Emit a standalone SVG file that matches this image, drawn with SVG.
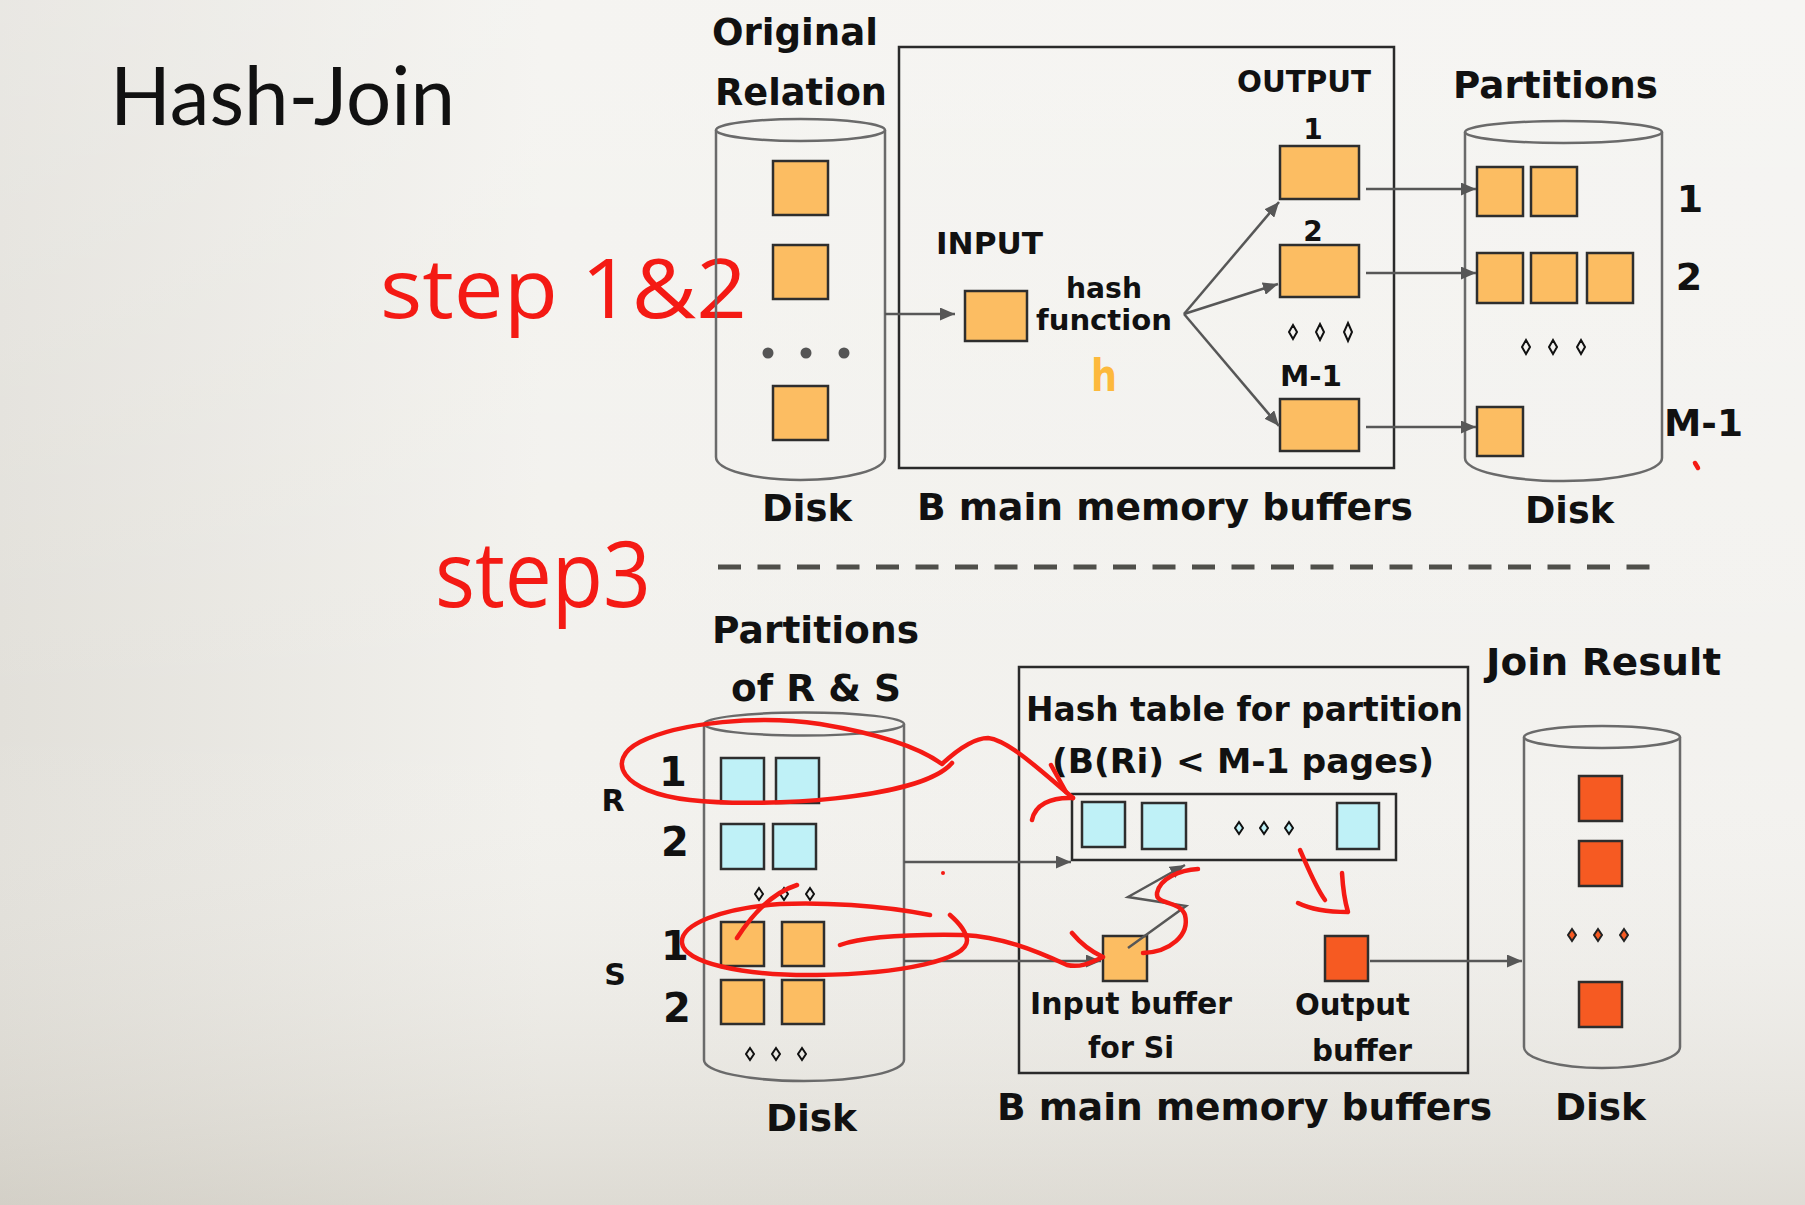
<svg xmlns="http://www.w3.org/2000/svg" width="1805" height="1205" viewBox="0 0 1805 1205">
<defs>
<linearGradient id="bgx" x1="0" y1="0" x2="1" y2="0">
<stop offset="0" stop-color="#e2e0da"/>
<stop offset="0.3" stop-color="#f2f1ed"/>
<stop offset="1" stop-color="#f3f2ef"/>
</linearGradient>
<linearGradient id="bgy" x1="0" y1="0" x2="0" y2="1">
<stop offset="0" stop-color="#ffffff" stop-opacity="0.25"/>
<stop offset="0.6" stop-color="#ffffff" stop-opacity="0"/>
<stop offset="1" stop-color="#b8b2a4" stop-opacity="0.35"/>
</linearGradient>
<marker id="ah" viewBox="0 0 15 13" refX="15" refY="6.5" markerWidth="15" markerHeight="13" markerUnits="userSpaceOnUse" orient="auto">
<path d="M0,0 L15,6.5 L0,13 z" fill="#575757"/>
</marker>
<style>
.lbl{font-family:"DejaVu Sans","Liberation Sans",sans-serif;font-weight:bold;fill:#111}
.cyl{fill:none;stroke:#6a6a6a;stroke-width:2.5}
.frame{fill:none;stroke:#2a2a2a;stroke-width:2.5}
.or{fill:#fcbd62;stroke:#2e2e2e;stroke-width:2.5}
.bl{fill:#bff1f7;stroke:#2e2e2e;stroke-width:2.5}
.rd{fill:#f65a22;stroke:#2e2e2e;stroke-width:2.5}
.arr{fill:none;stroke:#575757;stroke-width:2.5;marker-end:url(#ah)}
.dia{fill:none;stroke:#111;stroke-width:2}
.ink{fill:none;stroke:#f41a14;stroke-width:4.5;stroke-linecap:round;stroke-linejoin:round}
.hand{font-family:"Open Sans","DejaVu Sans",sans-serif;font-weight:400;fill:#f41a14}
</style>
</defs>
<rect width="1805" height="1205" fill="url(#bgx)"/>
<rect width="1805" height="1205" fill="url(#bgy)"/>

<text x="110" y="125" font-family="Lato, 'Open Sans', sans-serif" font-size="82" fill="#111" textLength="345" lengthAdjust="spacingAndGlyphs">Hash-Join</text>

<!-- handwriting -->
<text class="hand" x="380" y="318" font-size="82" textLength="367" lengthAdjust="spacingAndGlyphs">step 1&amp;2</text>
<text class="hand" x="435" y="607" font-size="92" textLength="216" lengthAdjust="spacingAndGlyphs">step3</text>

<!-- top: original relation disk -->
<g id="orig-disk">
<path class="cyl" d="M716,130 L716,457 A84.5,23 0 0 0 885,457 L885,130"/>
<ellipse class="cyl" cx="800.5" cy="130" rx="84.5" ry="11"/>
<rect class="or" x="773" y="161" width="55" height="54"/>
<rect class="or" x="773" y="245" width="55" height="54"/>
<circle cx="768" cy="353" r="5.5" fill="#555"/>
<circle cx="806" cy="353" r="5.5" fill="#555"/>
<circle cx="844" cy="353" r="5.5" fill="#555"/>
<rect class="or" x="773" y="386" width="55" height="54"/>
<text class="lbl" x="712" y="45" font-size="38" textLength="166" lengthAdjust="spacingAndGlyphs">Original</text>
<text class="lbl" x="715" y="105" font-size="38" textLength="172" lengthAdjust="spacingAndGlyphs">Relation</text>
<text class="lbl" x="762" y="521" font-size="38" textLength="90" lengthAdjust="spacingAndGlyphs">Disk</text>
</g>

<g id="memory-top">
<rect class="frame" x="899" y="47" width="495" height="421"/>
<text class="lbl" x="936" y="254" font-size="30" textLength="107" lengthAdjust="spacingAndGlyphs">INPUT</text>
<rect class="or" x="965" y="291" width="62" height="50"/>
<text class="lbl" x="1066" y="298" font-size="28" textLength="76" lengthAdjust="spacingAndGlyphs">hash</text>
<text class="lbl" x="1036" y="330" font-size="28" textLength="136" lengthAdjust="spacingAndGlyphs">function</text>
<text x="1091" y="391" font-family="'DejaVu Sans',sans-serif" font-weight="bold" font-size="44" fill="#fdb93c" textLength="26" lengthAdjust="spacingAndGlyphs">h</text>
<text class="lbl" x="1237" y="92" font-size="30" textLength="134" lengthAdjust="spacingAndGlyphs">OUTPUT</text>
<text class="lbl" x="1313" y="139" font-size="28" text-anchor="middle">1</text>
<rect class="or" x="1280" y="146" width="79" height="53"/>
<text class="lbl" x="1313" y="241" font-size="28" text-anchor="middle">2</text>
<rect class="or" x="1280" y="245" width="79" height="52"/>
<path class="dia" d="M1293,325 L1297,332 L1293,339 L1289,332 Z M1320,324 L1324,332 L1320,340 L1316,332 Z M1348,323 L1352,332 L1348,341 L1344,332 Z"/>
<text class="lbl" x="1280" y="386" font-size="28" textLength="62" lengthAdjust="spacingAndGlyphs">M-1</text>
<rect class="or" x="1280" y="399" width="79" height="52"/>
<text class="lbl" x="917" y="520" font-size="38" textLength="496" lengthAdjust="spacingAndGlyphs">B main memory buffers</text>
</g>

<g id="partitions-disk">
<text class="lbl" x="1453" y="98" font-size="38" textLength="205" lengthAdjust="spacingAndGlyphs">Partitions</text>
<path class="cyl" d="M1465,132 L1465,458 A98.5,23 0 0 0 1662,458 L1662,132"/>
<ellipse class="cyl" cx="1563.5" cy="132" rx="98.5" ry="11"/>
<rect class="or" x="1477" y="167" width="46" height="49"/>
<rect class="or" x="1531" y="167" width="46" height="49"/>
<rect class="or" x="1477" y="253" width="46" height="50"/>
<rect class="or" x="1531" y="253" width="46" height="50"/>
<rect class="or" x="1587" y="253" width="46" height="50"/>
<path class="dia" d="M1526,340 L1530,347 L1526,354 L1522,347 Z M1553,340 L1557,347 L1553,354 L1549,347 Z M1581,340 L1585,347 L1581,354 L1577,347 Z"/>
<rect class="or" x="1477" y="407" width="46" height="49"/>
<text class="lbl" x="1690" y="212" font-size="38" text-anchor="middle">1</text>
<text class="lbl" x="1689" y="290" font-size="38" text-anchor="middle">2</text>
<text class="lbl" x="1664" y="436" font-size="38" textLength="79" lengthAdjust="spacingAndGlyphs">M-1</text>
<text class="lbl" x="1525" y="523" font-size="38" textLength="89" lengthAdjust="spacingAndGlyphs">Disk</text>
</g>

<line x1="718" y1="567" x2="1652" y2="567" stroke="#4f4f4a" stroke-width="5" stroke-dasharray="23 16.5"/>

<!-- bottom: partitions of R & S -->
<g id="rs-disk">
<text class="lbl" x="712" y="643" font-size="38" textLength="207" lengthAdjust="spacingAndGlyphs">Partitions</text>
<text class="lbl" x="731" y="701" font-size="38" textLength="170" lengthAdjust="spacingAndGlyphs">of R &amp; S</text>
<path class="cyl" d="M704,724 L704,1060 A100,21 0 0 0 904,1060 L904,724"/>
<ellipse class="cyl" cx="804" cy="724" rx="100" ry="11.5"/>
<rect class="bl" x="721" y="758" width="43" height="45"/>
<rect class="bl" x="776" y="758" width="43" height="45"/>
<rect class="bl" x="721" y="824" width="43" height="45"/>
<rect class="bl" x="773" y="824" width="43" height="45"/>
<path class="dia" d="M759,888 L763,894 L759,900 L755,894 Z M784,888 L788,894 L784,900 L780,894 Z M810,888 L814,894 L810,900 L806,894 Z"/>
<rect class="or" x="721" y="922" width="43" height="44"/>
<rect class="or" x="782" y="922" width="42" height="44"/>
<rect class="or" x="721" y="980" width="43" height="44"/>
<rect class="or" x="782" y="980" width="42" height="44"/>
<path class="dia" d="M750,1048 L754,1054 L750,1060 L746,1054 Z M776,1048 L780,1054 L776,1060 L772,1054 Z M802,1048 L806,1054 L802,1060 L798,1054 Z"/>
<text class="lbl" x="613" y="811" font-size="30" text-anchor="middle">R</text>
<text class="lbl" x="615" y="985" font-size="30" text-anchor="middle">S</text>
<text class="lbl" x="673" y="786" font-size="40" text-anchor="middle">1</text>
<text class="lbl" x="675" y="856" font-size="40" text-anchor="middle">2</text>
<text class="lbl" x="675" y="960" font-size="40" text-anchor="middle">1</text>
<text class="lbl" x="677" y="1022" font-size="40" text-anchor="middle">2</text>
<text class="lbl" x="766" y="1131" font-size="38" textLength="91" lengthAdjust="spacingAndGlyphs">Disk</text>
</g>

<g id="memory-bottom">
<rect class="frame" x="1019" y="667" width="449" height="406"/>
<text class="lbl" x="1026" y="721" font-size="34" textLength="437" lengthAdjust="spacingAndGlyphs">Hash table for partition</text>
<text class="lbl" x="1052" y="773" font-size="34" textLength="382" lengthAdjust="spacingAndGlyphs">(B(Ri) &lt; M-1 pages)</text>
<rect class="frame" x="1072" y="794" width="324" height="66"/>
<rect class="bl" x="1082" y="802" width="43" height="45"/>
<rect class="bl" x="1142" y="803" width="44" height="46"/>
<path d="M1239,822 L1243,828 L1239,834 L1235,828 Z M1264,822 L1268,828 L1264,834 L1260,828 Z M1289,822 L1293,828 L1289,834 L1285,828 Z" fill="#bff1f7" stroke="#111" stroke-width="2"/>
<rect class="bl" x="1337" y="803" width="42" height="46"/>
<rect class="or" x="1103" y="936" width="44" height="45"/>
<rect class="rd" x="1325" y="936" width="43" height="45"/>
<text class="lbl" x="1030" y="1014" font-size="30" textLength="202" lengthAdjust="spacingAndGlyphs">Input buffer</text>
<text class="lbl" x="1088" y="1058" font-size="30" textLength="86" lengthAdjust="spacingAndGlyphs">for Si</text>
<text class="lbl" x="1295" y="1015" font-size="30" textLength="115" lengthAdjust="spacingAndGlyphs">Output</text>
<text class="lbl" x="1312" y="1061" font-size="30" textLength="100" lengthAdjust="spacingAndGlyphs">buffer</text>
<text class="lbl" x="997" y="1120" font-size="38" textLength="495" lengthAdjust="spacingAndGlyphs">B main memory buffers</text>
</g>

<g id="join-disk">
<text class="lbl" x="1486" y="675" font-size="38" textLength="235" lengthAdjust="spacingAndGlyphs">Join Result</text>
<path class="cyl" d="M1524,737 L1524,1047 A78,21 0 0 0 1680,1047 L1680,737"/>
<ellipse class="cyl" cx="1602" cy="737" rx="78" ry="11"/>
<rect class="rd" x="1579" y="776" width="43" height="45"/>
<rect class="rd" x="1579" y="841" width="43" height="45"/>
<path d="M1572,929 L1576,935 L1572,941 L1568,935 Z M1598,929 L1602,935 L1598,941 L1594,935 Z M1624,929 L1628,935 L1624,941 L1620,935 Z" fill="#f65a22" stroke="#222" stroke-width="2"/>
<rect class="rd" x="1579" y="982" width="43" height="45"/>
<text class="lbl" x="1555" y="1120" font-size="38" textLength="91" lengthAdjust="spacingAndGlyphs">Disk</text>
</g>

<g id="connectors">
<line class="arr" x1="885" y1="314" x2="955" y2="314"/>
<line class="arr" x1="1184" y1="314" x2="1279" y2="202"/>
<line class="arr" x1="1184" y1="314" x2="1278" y2="284"/>
<line class="arr" x1="1184" y1="314" x2="1279" y2="426"/>
<line class="arr" x1="1366" y1="189" x2="1476" y2="189"/>
<line class="arr" x1="1366" y1="273" x2="1476" y2="273"/>
<line class="arr" x1="1366" y1="427" x2="1476" y2="427"/>
<line class="arr" x1="904" y1="862" x2="1071" y2="862"/>
<line class="arr" x1="904" y1="961" x2="1101" y2="961"/>
<line class="arr" x1="1370" y1="961" x2="1522" y2="961"/>
<polyline class="arr" points="1128,948 1186,906 1128,897 1185,865"/>
</g>

<!-- red annotations -->
<g id="ink">
<path class="ink" d="M952,763 C920,800 760,808 690,800 C620,792 605,760 640,742 C680,722 760,715 820,724 C880,734 920,748 942,764 C955,752 972,738 988,738 C1008,740 1040,770 1073,798"/>
<path class="ink" d="M1051,765 L1066,792 M1032,820 C1035,805 1050,797 1073,798"/>
<path class="ink" d="M930,915 C880,905 820,902 780,904 C720,908 680,925 682,943 C684,962 740,976 817,975 C900,974 968,960 967,940 C966,930 958,922 950,915"/>
<path class="ink" d="M840,945 C860,938 900,934 963,935 C1000,937 1030,948 1067,965 C1080,968 1090,963 1103,957 M1072,933 C1082,945 1092,952 1103,957"/>
<path class="ink" d="M737,938 C755,910 775,892 797,885"/>
<path class="ink" d="M1143,953 C1170,952 1190,935 1185,915 C1180,900 1155,905 1157,893 C1160,878 1180,870 1198,869"/>
<path class="ink" d="M1300,850 C1308,868 1316,888 1325,900 M1342,873 C1343,890 1345,902 1348,912 C1330,912 1312,910 1298,903"/>
<circle cx="943" cy="873" r="2" fill="#f41a14"/>
<path class="ink" stroke-width="2.5" d="M1695,463 L1698,468"/>
</g>
</svg>
